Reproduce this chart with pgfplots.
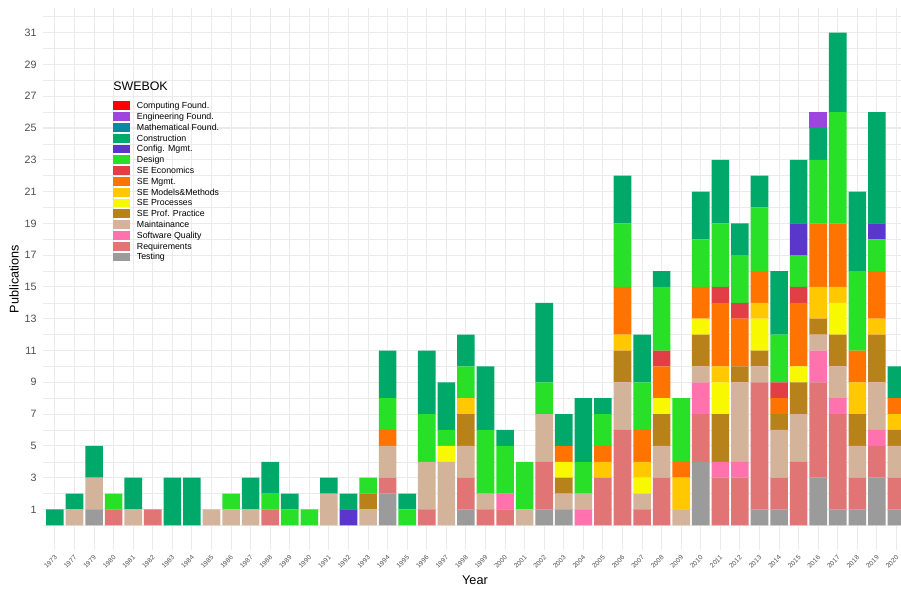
\documentclass[border=0pt]{standalone}
\usepackage{fontspec}
\setmainfont{Liberation Sans}
\usepackage{pgfplots}
\usepackage{pgfplotstable}
\pgfplotsset{compat=1.18}

\definecolor{cComp}{HTML}{FF0000}
\definecolor{cEng}{HTML}{9E45DD}
\definecolor{cMath}{HTML}{0A8AA0}
\definecolor{cConstr}{HTML}{00A86A}
\definecolor{cConfig}{HTML}{5A36CC}
\definecolor{cDesign}{HTML}{27E027}
\definecolor{cEcon}{HTML}{E13E45}
\definecolor{cMgmt}{HTML}{FF7400}
\definecolor{cModels}{HTML}{FFC800}
\definecolor{cProc}{HTML}{F8F800}
\definecolor{cProf}{HTML}{B8821A}
\definecolor{cMaint}{HTML}{D3B49A}
\definecolor{cSQ}{HTML}{FF72AE}
\definecolor{cReq}{HTML}{E17474}
\definecolor{cTest}{HTML}{9B9B9B}
\definecolor{tickgrey}{HTML}{4D4D4D}
\definecolor{gridgrey}{HTML}{EBEBEB}

% one row per year (1973, 1977, 1979 ... 2020)
\pgfplotstableread{
idx Test Req SQ Maint Prof Proc Models Mgmt Econ Design Config Constr Eng
0   0 0 0 0 0 0 0 0 0 0 0 1 0
1   0 0 0 1 0 0 0 0 0 0 0 1 0
2   1 0 0 2 0 0 0 0 0 0 0 2 0
3   0 1 0 0 0 0 0 0 0 1 0 0 0
4   0 0 0 1 0 0 0 0 0 0 0 2 0
5   0 1 0 0 0 0 0 0 0 0 0 0 0
6   0 0 0 0 0 0 0 0 0 0 0 3 0
7   0 0 0 0 0 0 0 0 0 0 0 3 0
8   0 0 0 1 0 0 0 0 0 0 0 0 0
9   0 0 0 1 0 0 0 0 0 1 0 0 0
10  0 0 0 1 0 0 0 0 0 0 0 2 0
11  0 1 0 0 0 0 0 0 0 1 0 2 0
12  0 0 0 0 0 0 0 0 0 1 0 1 0
13  0 0 0 0 0 0 0 0 0 1 0 0 0
14  0 0 0 2 0 0 0 0 0 0 0 1 0
15  0 0 0 0 0 0 0 0 0 0 1 1 0
16  0 0 0 1 1 0 0 0 0 1 0 0 0
17  2 1 0 2 0 0 0 1 0 2 0 3 0
18  0 0 0 0 0 0 0 0 0 1 0 1 0
19  0 1 0 3 0 0 0 0 0 3 0 4 0
20  0 0 0 4 0 1 0 0 0 1 0 3 0
21  1 2 0 2 2 0 1 0 0 2 0 2 0
22  0 1 0 1 0 0 0 0 0 4 0 4 0
23  0 1 1 0 0 0 0 0 0 3 0 1 0
24  0 0 0 1 0 0 0 0 0 3 0 0 0
25  1 3 0 3 0 0 0 0 0 2 0 5 0
26  1 0 0 1 1 1 0 1 0 0 0 2 0
27  0 0 1 1 0 0 0 0 0 2 0 4 0
28  0 3 0 0 0 0 1 1 0 2 0 1 0
29  0 6 0 3 2 0 1 3 0 4 0 3 0
30  0 1 0 1 0 1 1 2 0 3 0 3 0
31  0 3 0 2 2 1 0 2 1 4 0 1 0
32  0 0 0 1 0 0 2 1 0 4 0 0 0
33  4 3 2 1 2 1 0 2 0 3 0 3 0
34  0 3 1 0 3 2 1 4 1 4 0 4 0
35  0 3 1 5 1 0 0 3 1 3 0 2 0
36  1 8 0 1 1 2 1 2 0 4 0 2 0
37  1 2 0 3 1 0 0 1 1 3 0 4 0
38  0 4 0 3 2 1 0 4 1 2 2 4 0
39  3 6 2 1 1 0 2 4 0 4 0 2 1
40  1 6 1 2 2 2 1 4 0 7 0 5 0
41  1 2 0 2 2 0 2 2 0 5 0 5 0
42  3 2 1 3 3 0 1 3 0 2 1 7 0
43  1 2 0 2 1 0 1 1 0 0 0 2 0
}\pubs

\begin{document}
\begin{tikzpicture}
\useasboundingbox (-32.25pt,-29.25pt) rectangle (643.5pt,412.5pt);
\begin{axis}[
  scale only axis, width=643.5pt, height=406.5pt,
  ybar stacked, bar width=0.9,
  xmin=-0.61, xmax=43.23, ymin=-1.55, ymax=32.55,
  axis line style={draw=none}, tick style={draw=none},
  xtick={0,...,43},
  xticklabels={1973,1977,1979,1980,1981,1982,1983,1984,1985,1986,1987,1988,1989,1990,1991,1992,1993,1994,1995,1996,1997,1998,1999,2000,2001,2002,2003,2004,2005,2006,2007,2008,2009,2010,2011,2012,2013,2014,2015,2016,2017,2018,2019,2020},
  ytick={1,3,...,31}, minor ytick={0,2,...,32},
  xmajorgrids, ymajorgrids, yminorgrids,
  major grid style={color=gridgrey, line width=0.8pt},
  minor grid style={color=gridgrey, line width=0.4pt},
  /pgf/number format/assume math mode=true,
  yticklabel style={font=\fontsize{8}{9}\selectfont, text=tickgrey, inner sep=0pt, xshift=-4.7pt},
  xticklabel style={font=\fontsize{5}{6}\selectfont, text=tickgrey, inner sep=0pt, xshift=0.8pt, yshift=-4.9pt, rotate=45, anchor=east},
  xlabel={Year}, ylabel={Publications},
  xlabel style={font=\fontsize{9.5}{11}\selectfont, at={(axis description cs:0.5035,-0.0554)}, anchor=center},
  ylabel style={font=\fontsize{9.5}{11}\selectfont, at={(axis description cs:-0.0338,0.5)}, anchor=center},
  reverse legend,
  legend image code/.code={\fill[#1] (0pt,-3.3pt) rectangle (12.75pt,3.3pt);},
  legend cell align=left,
  legend style={at={(0.0816,0.830)}, anchor=north west, draw=none, fill=none,
    inner sep=0pt, row sep=0pt, column sep=4.5pt,
    font=\fontsize{6.6}{7}\selectfont,
    nodes={inner sep=0.5pt, text height=5.7pt, text depth=1.4pt}},
]
\addplot[fill=cTest, draw=none] table[x=idx, y=Test] {\pubs};
\addlegendentry{Testing}
\addplot[fill=cReq, draw=none] table[x=idx, y=Req] {\pubs};
\addlegendentry{Requirements}
\addplot[fill=cSQ, draw=none] table[x=idx, y=SQ] {\pubs};
\addlegendentry{Software Quality}
\addplot[fill=cMaint, draw=none] table[x=idx, y=Maint] {\pubs};
\addlegendentry{Maintainance}
\addplot[fill=cProf, draw=none] table[x=idx, y=Prof] {\pubs};
\addlegendentry{SE Prof. Practice}
\addplot[fill=cProc, draw=none] table[x=idx, y=Proc] {\pubs};
\addlegendentry{SE Processes}
\addplot[fill=cModels, draw=none] table[x=idx, y=Models] {\pubs};
\addlegendentry{SE Models\&Methods}
\addplot[fill=cMgmt, draw=none] table[x=idx, y=Mgmt] {\pubs};
\addlegendentry{SE Mgmt.}
\addplot[fill=cEcon, draw=none] table[x=idx, y=Econ] {\pubs};
\addlegendentry{SE Economics}
\addplot[fill=cDesign, draw=none] table[x=idx, y=Design] {\pubs};
\addlegendentry{Design}
\addplot[fill=cConfig, draw=none] table[x=idx, y=Config] {\pubs};
\addlegendentry{Config. Mgmt.}
\addplot[fill=cConstr, draw=none] table[x=idx, y=Constr] {\pubs};
\addlegendentry{Construction}
\addlegendimage{fill=cMath, draw=none}
\addlegendentry{Mathematical Found.}
\addplot[fill=cEng, draw=none] table[x=idx, y=Eng] {\pubs};
\addlegendentry{Engineering Found.}
\addlegendimage{fill=cComp, draw=none}
\addlegendentry{Computing Found.}
\node[anchor=west, inner sep=0pt, font=\fontsize{9.3}{10}\selectfont] at (rel axis cs:0.0816,0.855) {SWEBOK};
\end{axis}
\end{tikzpicture}
\end{document}
